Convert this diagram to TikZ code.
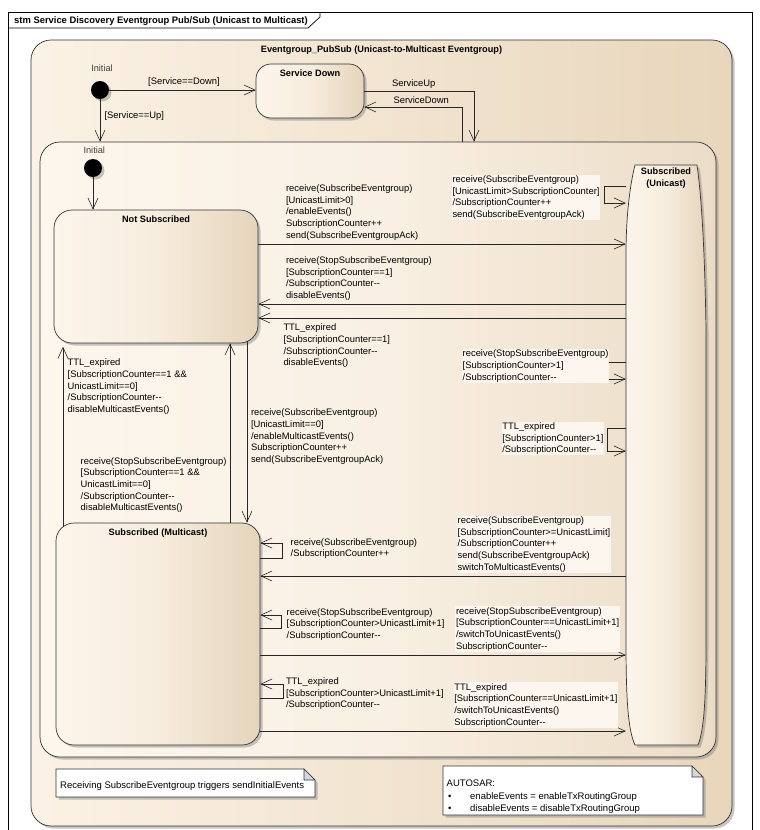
\documentclass[tikz,border=0pt]{standalone}
\usepackage{fontspec}
\setmainfont{Liberation Sans}
\usetikzlibrary{arrows.meta,shadows}

\definecolor{stL}{RGB}{252,245,235}
\definecolor{stM}{RGB}{247,237,222}
\definecolor{stR}{RGB}{229,212,187}
\definecolor{egL}{RGB}{251,242,229}
\definecolor{egR}{RGB}{232,214,188}
\definecolor{suL}{RGB}{252,246,237}
\definecolor{suM}{RGB}{249,240,227}
\definecolor{suR}{RGB}{235,220,198}
\definecolor{lblbg}{RGB}{252,246,238}
\definecolor{foldgray}{RGB}{214,214,222}

\begin{document}
\begin{tikzpicture}[x=1pt,y=-1pt,
    shade/.style={drop shadow={shadow xshift=2.5pt,shadow yshift=-2.5pt,fill=black!50,opacity=0.45}},
    state/.style={draw=black!80,line width=0.7pt,rounded corners=18pt,left color=stL,right color=stR,middle color=stM,shade},
    title/.style={font=\fontsize{9.2}{11.6}\selectfont\bfseries,anchor=north,align=center,inner sep=1pt},
    lbl/.style={font=\fontsize{9.4}{11.7}\selectfont,anchor=north west,align=left,inner sep=0.8pt},
    lblbox/.style={lbl,fill=lblbg},
    plain/.style={font=\fontsize{9.4}{11.7}\selectfont,inner sep=0.8pt},
    initial/.style={circle,fill=black,minimum size=18pt,inner sep=0pt,shade},
    initlbl/.style={font=\fontsize{9.2}{11}\selectfont,text=black!75,inner sep=0.5pt},
    tr/.style={draw=black!85,line width=0.6pt,-{Straight Barb[length=11pt,width=10pt]}},
    note/.style={draw=black!80,line width=0.6pt,fill=white,shade},
    notetext/.style={font=\fontsize{9.5}{12.5}\selectfont,align=left,inner sep=0pt}]
\useasboundingbox (0,0) rectangle (760,830);

\draw[line width=0.7pt,fill=white] (8,12) rectangle (752,845);
\draw[line width=0.7pt] (8,28) -- (308,28) -- (320,17) -- (320,12);
\node[title,anchor=north west,font=\fontsize{9.4}{11.6}\selectfont\bfseries] (ft) at (13,15.5) {stm Service Discovery Eventgroup Pub/Sub (Unicast to Multicast)};

\node[state,minimum width=701pt,minimum height=786pt,rounded corners=20pt,left color=egL,right color=egR] (pubsub) at (381.5,433) {};
\node[title] (pubsubt) at ([yshift=-4.5pt]pubsub.north) {Eventgroup\_PubSub (Unicast-to-Multicast Eventgroup)};

\node[initial] (i1) at (100,90) {};
\node[initlbl] (i1l) at (102,68) {Initial};
\node[state,minimum width=108pt,minimum height=54pt,rounded corners=15pt] (sd) at (310,91) {};
\node[title] (sdt) at ([yshift=-4.5pt]sd.north) {Service Down};

\node[state,minimum width=676pt,minimum height=615pt,rounded corners=20pt,left color=suL,right color=suR,middle color=suM] (srvup) at (378,449.5) {};

\draw[tr] (i1) -- (sd.west |- i1);
\node[plain] (t1) at (184,82.3) {[Service==Down]};
\draw[tr] (i1) -- (srvup.north -| i1);
\node[plain,anchor=west] (t2) at (103.5,116) {[Service==Up]};
\draw[tr] (sd.east) -| (srvup.north -| 474,0);
\node[plain,anchor=west] (t3) at (391,84) {ServiceUp};
\draw[tr] (srvup.north -| 462,0) |- (sd.east |- 0,107);
\node[plain,anchor=west] (t4) at (392.5,100) {ServiceDown};

\node[initial] (i2) at (93,168) {};
\node[initlbl] (i2l) at (94.3,150) {Initial};
\node[state,minimum width=204pt,minimum height=133pt] (ns) at (156,276.5) {};
\node[title] (nst) at ([yshift=-4.5pt]ns.north) {Not Subscribed};
\node[state,minimum width=204pt,minimum height=222pt] (ms) at (158,634) {};
\node[title] (mst) at ([yshift=-4.5pt]ms.north) {Subscribed (Multicast)};

\node[minimum width=80pt,minimum height=580pt,inner sep=0pt] (uc) at (666,455) {};
\draw[draw=black!80,line width=0.7pt,left color=stL,right color=stR,middle color=stM,shade]
  (635,165) .. controls (630,185) and (626,215) .. (626,255) -- (626,640)
  .. controls (626,700) and (628,730) .. (635,745) -- (698,745)
  .. controls (704,730) and (706,700) .. (706,640) -- (706,330)
  .. controls (705,260) and (702,200) .. (697,165) -- cycle;
\node[title] (uct) at ([yshift=-2.2pt]uc.north) {Subscribed\\(Unicast)};

\draw[tr] (i2) -- (ns.north -| i2);

\draw[tr] (ns.east |- 0,244) -- (uc.west |- 0,244);
\node[lbl] (l1) at (285,183.5) {receive(SubscribeEventgroup)\\{[}UnicastLimit>0]\\/enableEvents()\\SubscriptionCounter++\\send(SubscribeEventgroupAck)};
\draw[tr] (uc.west |- 0,186) -- (604,186) |- (uc.west |- 0,203);
\node[lblbox] (l2) at (451.5,174.5) {receive(SubscribeEventgroup)\\{[}UnicastLimit>SubscriptionCounter]\\/SubscriptionCounter++\\send(SubscribeEventgroupAck)};
\draw[tr] (uc.west |- 0,304) -- (ns.east |- 0,304);
\node[lbl] (l3) at (285,255.5) {receive(StopSubscribeEventgroup)\\{[}SubscriptionCounter==1]\\/SubscriptionCounter-{}-\\disableEvents()};
\draw[tr] (uc.west |- 0,318) -- (ns.east |- 0,318);
\node[lbl] (l4) at (282.5,323) {TTL\_expired\\{[}SubscriptionCounter==1]\\/SubscriptionCounter-{}-\\disableEvents()};
\draw[tr] (uc.west |- 0,362) -- (608,362) |- (uc.west |- 0,379);
\node[lblbox] (l5) at (461.7,348.8) {receive(StopSubscribeEventgroup)\\{[}SubscriptionCounter>1]\\/SubscriptionCounter-{}-};
\draw[tr] (uc.west |- 0,428) -- (607,428) |- (uc.west |- 0,451);
\node[lblbox] (l6) at (501.3,421.5) {TTL\_expired\\{[}SubscriptionCounter>1]\\/SubscriptionCounter-{}-};

\draw[tr,shorten <=-4.5pt,shorten >=3.3pt] (ms.north -| 63,0) -- (ns.south -| 63,0);
\node[lbl] (l7) at (66.7,357.8) {TTL\_expired\\{[}SubscriptionCounter==1 \&\&\\UnicastLimit==0]\\/SubscriptionCounter-{}-\\disableMulticastEvents()};
\draw[tr] (ms.north -| 230,0) -- (ns.south -| 230,0);
\node[lbl] (l8) at (79.7,456.2) {receive(StopSubscribeEventgroup)\\{[}SubscriptionCounter==1 \&\&\\UnicastLimit==0]\\/SubscriptionCounter-{}-\\disableMulticastEvents()};
\draw[tr,shorten <=-2pt] (ns.south -| 247,0) -- (ms.north -| 247,0);
\node[lbl] (l9) at (250,407.8) {receive(SubscribeEventgroup)\\{[}UnicastLimit==0]\\/enableMulticastEvents()\\SubscriptionCounter++\\send(SubscribeEventgroupAck)};

\draw[tr] (ms.east |- 0,558) -- (282,558) |- (ms.east |- 0,543);
\node[lbl] (l10) at (289.7,537.2) {receive(SubscribeEventgroup)\\/SubscriptionCounter++};
\draw[tr] (uc.west |- 0,576) -- (ms.east |- 0,576);
\node[lblbox] (l11) at (456.7,515.5) {receive(SubscribeEventgroup)\\{[}SubscriptionCounter>=UnicastLimit]\\/SubscriptionCounter++\\send(SubscribeEventgroupAck)\\switchToMulticastEvents()};
\draw[tr] (ms.east |- 0,628) -- (281,628) |- (ms.east |- 0,615);
\node[lbl] (l12) at (285.7,607.2) {receive(StopSubscribeEventgroup)\\{[}SubscriptionCounter>UnicastLimit+1]\\/SubscriptionCounter-{}-};
\draw[tr] (ms.east |- 0,655) -- (uc.west |- 0,655);
\node[lblbox] (l13) at (455,606.2) {receive(StopSubscribeEventgroup)\\{[}SubscriptionCounter==UnicastLimit+1]\\/switchToUnicastEvents()\\SubscriptionCounter-{}-};
\draw[tr] (ms.east |- 0,698) -- (283,698) |- (ms.east |- 0,684);
\node[lbl] (l14) at (285,676.5) {TTL\_expired\\{[}SubscriptionCounter>UnicastLimit+1]\\/SubscriptionCounter-{}-};
\draw[tr] (ms.east |- 0,731) -- (uc.west |- 0,731);
\node[lblbox] (l15) at (453.3,682.2) {TTL\_expired\\{[}SubscriptionCounter==UnicastLimit+1]\\/switchToUnicastEvents()\\SubscriptionCounter-{}-};

\draw[note] (56,769) -- (304,769) -- (315,780) -- (315,797) -- (56,797) -- cycle;
\draw[line width=0.6pt,draw=black!80,fill=foldgray] (304,769) -- (304,780) -- (315,780) -- cycle;
\node[notetext,anchor=west] (n1) at (60,786.5) {Receiving SubscribeEventgroup triggers sendInitialEvents};
\draw[note] (443,766) -- (692,766) -- (703,777) -- (703,815) -- (443,815) -- cycle;
\draw[line width=0.6pt,draw=black!80,fill=foldgray] (692,766) -- (692,777) -- (703,777) -- cycle;
\node[notetext,anchor=north west] (n2) at (446.5,780) {AUTOSAR:\\\makebox[23.5pt][l]{\hspace{1.5pt}•}enableEvents = enableTxRoutingGroup\\\makebox[23.5pt][l]{\hspace{1.5pt}•}disableEvents = disableTxRoutingGroup};
\end{tikzpicture}
\end{document}
